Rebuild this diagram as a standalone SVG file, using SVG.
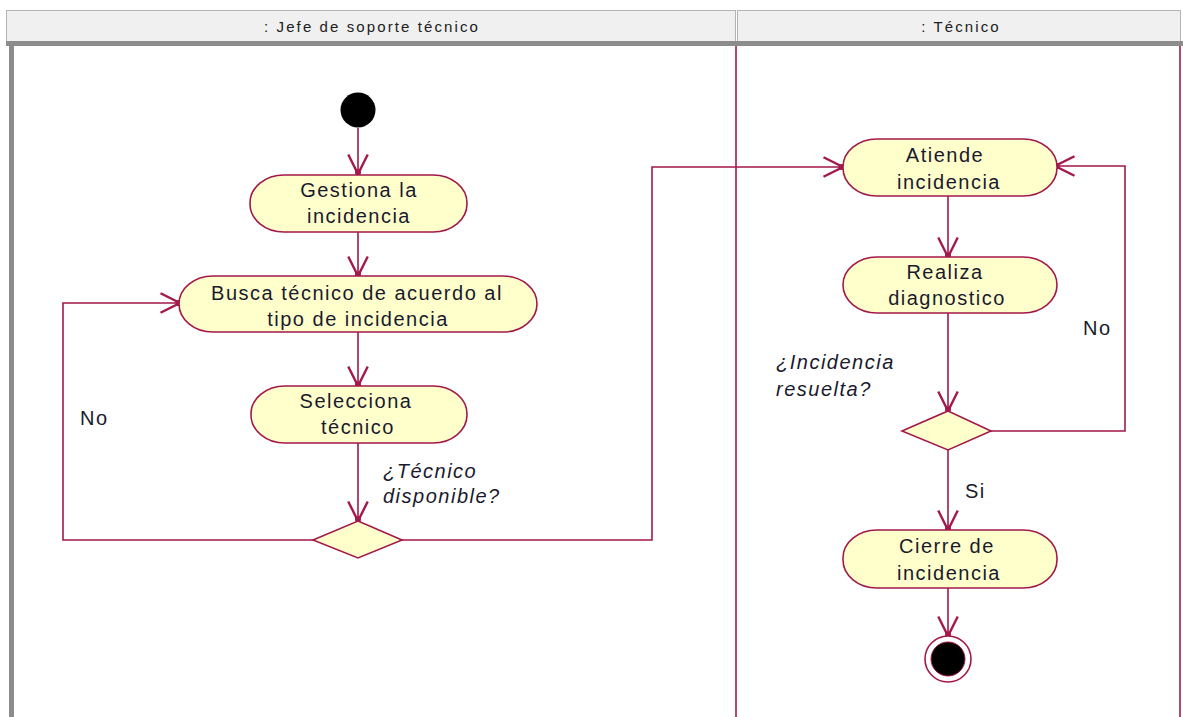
<svg xmlns="http://www.w3.org/2000/svg" width="1183" height="717" viewBox="0 0 1183 717">
  <defs>
    <style>
      .lane-head { fill: #f0f0f0; stroke: #b4b4b4; stroke-width: 1; }
      .head-text { font-family: "Liberation Sans", Arial, sans-serif; font-size: 15px; fill: #202020; text-anchor: middle; letter-spacing: 2.1px; }
      .act { fill: #ffffcc; stroke: #a3194b; stroke-width: 1.6; }
      .act-text { font-family: "Liberation Sans", Arial, sans-serif; font-size: 20px; fill: #1a1a2e; text-anchor: middle; letter-spacing: 1.5px; }
      .guard { font-family: "Liberation Sans", Arial, sans-serif; font-size: 20px; fill: #1a1a2e; font-style: italic; letter-spacing: 1.5px; }
      .lbl { font-family: "Liberation Sans", Arial, sans-serif; font-size: 20px; fill: #1a1a2e; letter-spacing: 1.5px; }
      .flow { fill: none; stroke: #a3194b; stroke-width: 1.6; }
      .lane-line { stroke: #a3194b; stroke-width: 1.6; }
    </style>
    <marker id="open-arrow" markerUnits="userSpaceOnUse" markerWidth="30" markerHeight="30" refX="0" refY="0" viewBox="-16 -10 20 20" orient="auto" overflow="visible">
      <path d="M-13,-6.5 L0,0 L-13,6.5" fill="none" stroke="#a3194b" stroke-width="1.6"/>
      <circle cx="-1" cy="0" r="2" fill="#a3194b"/>
    </marker>
  </defs>

  <rect x="0" y="0" width="1183" height="717" fill="#ffffff"/>

  <!-- swimlane frame -->
  <g id="swimlanes">
    <rect class="lane-head" x="6.5" y="10.5" width="729" height="31"/>
    <rect class="lane-head" x="737.5" y="10.5" width="443" height="31"/>
    <rect x="6" y="41" width="1177" height="5" fill="#8c8c8c"/>
    <rect x="9" y="41" width="5" height="676" fill="#8c8c8c"/>
    <line class="lane-line" x1="736" y1="46" x2="736" y2="717"/>
    <line class="lane-line" x1="1180" y1="46" x2="1180" y2="717"/>
    <text class="head-text" x="372" y="32">: Jefe de soporte técnico</text>
    <text class="head-text" x="961" y="32">: Técnico</text>
  </g>

  <!-- control flows -->
  <g id="connectors">
    <line class="flow" x1="358" y1="128" x2="358" y2="174" marker-end="url(#open-arrow)"/>
    <line class="flow" x1="358" y1="232" x2="358" y2="276" marker-end="url(#open-arrow)"/>
    <line class="flow" x1="358" y1="332" x2="358" y2="386" marker-end="url(#open-arrow)"/>
    <line class="flow" x1="358" y1="443" x2="358" y2="521" marker-end="url(#open-arrow)"/>
    <polyline class="flow" points="313,540 63,540 63,303 180,303" marker-end="url(#open-arrow)"/>
    <polyline class="flow" points="402,540 652,540 652,167 843,167" marker-end="url(#open-arrow)"/>
    <line class="flow" x1="948" y1="196" x2="948" y2="257" marker-end="url(#open-arrow)"/>
    <line class="flow" x1="948" y1="313" x2="948" y2="411" marker-end="url(#open-arrow)"/>
    <polyline class="flow" points="991,431 1125,431 1125,166 1055,166" marker-end="url(#open-arrow)"/>
    <line class="flow" x1="948" y1="450" x2="948" y2="530" marker-end="url(#open-arrow)"/>
    <line class="flow" x1="948" y1="588" x2="948" y2="636" marker-end="url(#open-arrow)"/>
    <text class="lbl" x="80" y="425">No</text>
    <text class="guard" x="383" y="478">¿Técnico</text>
    <text class="guard" x="383" y="503">disponible?</text>
    <text class="lbl" x="1083" y="335">No</text>
    <text class="guard" x="776" y="369">¿Incidencia</text>
    <text class="guard" x="776" y="396">resuelta?</text>
    <text class="lbl" x="965" y="498">Si</text>
  </g>

  <g id="initial">
    <circle cx="358" cy="110" r="17.5" fill="#000000"/>
  </g>

  <g id="gestiona">
    <rect class="act" x="250" y="175" width="217" height="57" rx="34" ry="28"/>
    <text class="act-text" x="359" y="197">Gestiona la</text>
    <text class="act-text" x="359" y="223">incidencia</text>
  </g>

  <g id="busca">
    <rect class="act" x="179" y="276" width="358" height="56" rx="34" ry="28"/>
    <text class="act-text" x="357" y="300">Busca técnico de acuerdo al</text>
    <text class="act-text" x="358" y="326">tipo de incidencia</text>
  </g>

  <g id="selecciona">
    <rect class="act" x="251" y="386" width="216" height="57" rx="34" ry="28"/>
    <text class="act-text" x="356" y="408">Selecciona</text>
    <text class="act-text" x="358" y="434">técnico</text>
  </g>

  <g id="decision-tecnico">
    <polygon class="act" points="358,521 402,540 358,558 313,540"/>
  </g>

  <g id="atiende">
    <rect class="act" x="843" y="139" width="214" height="57" rx="34" ry="28"/>
    <text class="act-text" x="945" y="162">Atiende</text>
    <text class="act-text" x="949" y="189">incidencia</text>
  </g>

  <g id="realiza">
    <rect class="act" x="843" y="257" width="214" height="56" rx="34" ry="28"/>
    <text class="act-text" x="945" y="279">Realiza</text>
    <text class="act-text" x="947" y="305">diagnostico</text>
  </g>

  <g id="decision-resuelta">
    <polygon class="act" points="948,411 991,431 948,450 902,431"/>
  </g>

  <g id="cierre">
    <rect class="act" x="843" y="530" width="214" height="58" rx="34" ry="28"/>
    <text class="act-text" x="947" y="553">Cierre de</text>
    <text class="act-text" x="949" y="580">incidencia</text>
  </g>

  <g id="final">
    <circle cx="948" cy="659" r="23" fill="#ffffff" stroke="#a3194b" stroke-width="1.6"/>
    <circle cx="948" cy="659" r="17" fill="#000000" stroke="#a3194b" stroke-width="1"/>
  </g>
</svg>
